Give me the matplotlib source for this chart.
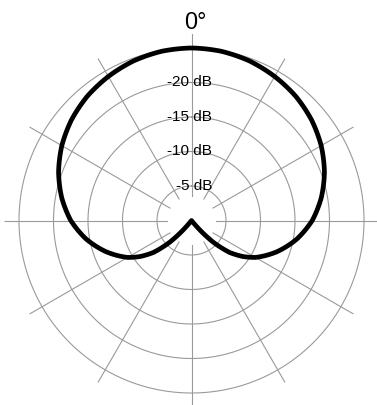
import numpy as np
import matplotlib
matplotlib.use("Agg")
from matplotlib import pyplot as plt

# polar pattern (angle in degrees, level in dB)
angles = [0, 10, 20, 30, 40, 50, 60, 70, 80, 90, 100, 110, 120, 125, 130, 135, 141,
          219, 225, 230, 235, 240, 250, 260, 270, 280, 290, 300, 310, 320, 330, 340, 350, 360]
levels = [0, -0.1, -0.4, -0.9, -1.5, -2.3, -3.3, -4.5, -5.9, -7.5, -9.5, -11.8, -14.3, -15.9, -17.8, -20.6, -25,
          -25, -20.6, -17.8, -15.9, -14.3, -11.8, -9.5, -7.5, -5.9, -4.5, -3.3, -2.3, -1.5, -0.9, -0.4, -0.1, 0]

ring_levels = [-20, -15, -10, -5, 0]
ring_labels = ["-5 dB", "-10 dB", "-15 dB", "-20 dB"]
spoke_angles = list(range(0, 360, 30))
top_label = "0°"

r_min, r_max = -25, 2.1
spoke_start = -21.4
grey = "#9a9a9a"
font = ["Liberation Sans", "DejaVu Sans"]

fig = plt.figure(figsize=(3.77, 4.05), dpi=100)
# centre of the plot sits at (191.5, 220.5) px, radius 187 px to r_max
ax = fig.add_axes([4.5 / 377, -2.5 / 405, 374 / 377, 374 / 405], projection="polar")
ax.set_theta_zero_location("N")
ax.set_theta_direction(-1)
ax.set_ylim(r_min, r_max)
ax.axis("off")

t = np.linspace(0, 2 * np.pi, 400)
for lv in ring_levels:
    ax.plot(t, np.full_like(t, lv), color=grey, lw=0.8, zorder=1)

for a in spoke_angles:
    ax.plot([np.radians(a)] * 2, [spoke_start, r_max], color=grey, lw=0.8, zorder=1)

line, = ax.plot(np.radians(angles), levels, color="black", lw=3.4, zorder=3,
                solid_joinstyle="round", solid_capstyle="butt")
# let the polar transform draw each segment as a curve, not a chord
line.get_path()._interpolation_steps = 60

for lv, lab in zip(ring_levels[:-1], ring_labels):
    ax.annotate(lab, xy=(0, lv), xytext=(15, 0), textcoords="offset points",
                ha="right", va="center", fontsize=11, family=font, zorder=4)

ax.annotate(top_label, xy=(0, 0), xytext=(3, 14), textcoords="offset points",
            ha="center", va="baseline", fontsize=16.8, family=font,
            annotation_clip=False)

fig.savefig("out.png", dpi=100)
